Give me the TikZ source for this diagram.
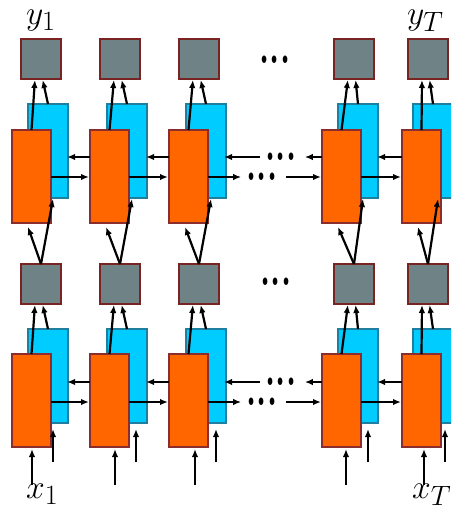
\documentclass[tikz,border=0pt]{standalone}
\usetikzlibrary{arrows.meta,calc}
\definecolor{grayfill}{HTML}{6F8386}
\definecolor{grayedge}{HTML}{7A2323}
\definecolor{bluefill}{HTML}{00CCFF}
\definecolor{blueedge}{HTML}{1E7F9E}
\definecolor{orangefill}{HTML}{FF6600}
\definecolor{orangeedge}{HTML}{8C2D2D}
\newcommand{\tdots}{\scalebox{1.3}[2.1]{\Huge\bfseries .\kern0.5pt.\kern0.5pt.}}
\newcommand{\biglabel}[1]{\scalebox{1.35}{\Huge$#1$}}

\begin{document}
\begin{tikzpicture}[x=1pt,y=-1pt,
  cell/.style={line width=1.5pt, inner sep=0pt, outer sep=0pt, anchor=north west},
  outbox/.style={cell, fill=grayfill, draw=grayedge, minimum width=40pt, minimum height=40pt},
  bwd/.style={cell, fill=bluefill, draw=blueedge, minimum width=40pt, minimum height=94pt},
  fwd/.style={cell, fill=orangefill, draw=orangeedge, minimum width=39pt, minimum height=93pt},
  arr/.style={-{Latex[length=8pt,width=6.5pt]}, line width=2.2pt},
  dotsbox/.style={inner sep=0pt, outer sep=0pt},
  lbl/.style={inner sep=0pt, anchor=base west}
]
\useasboundingbox (0,0) rectangle (451,515);
\clip (0,0) rectangle (451,515);

% columns: index / forward-cell left / backward-cell left / output-box left
\foreach \i/\O/\B/\G in {1/12/28/21, 2/90/107/100, 3/169/186/179, 4/322/338/334, 5/402/413/408} {
  \node[outbox] (gt\i) at (\G,39) {};
  \node[outbox] (gm\i) at (\G,264) {};
  \node[bwd] (bt\i) at (\B,104) {};
  \node[fwd] (ot\i) at (\O,130) {};
  \node[bwd] (bb\i) at (\B,329) {};
  \node[fwd] (ob\i) at (\O,354) {};
}

% inputs at the bottom
\foreach \i/\xo/\xb in {1/32/53, 2/115/136, 3/195/216, 4/346/368, 5/424/445} {
  \coordinate (xo\i) at (\xo,485);
  \coordinate (xb\i) at (\xb,462);
  \draw[arr] (xo\i) -- ($(xo\i |- ob\i.south)+(0,2)$);
  \draw[arr, shorten >=6pt] (xb\i) -- (xb\i |- bb\i.south);
}

% vertical connections between layers
\foreach \i in {1,...,5} {
  \draw[arr, shorten >=1pt] (ot\i.north) -- ([xshift=-6pt]gt\i.south);
  \draw[arr, shorten >=1pt] (bt\i.north) -- ([xshift=1.5pt]gt\i.south);
  \draw[arr, shorten >=1pt] (ob\i.north) -- ([xshift=-6pt]gm\i.south);
  \draw[arr, shorten >=1pt] (bb\i.north) -- ([xshift=1.5pt]gm\i.south);
  \draw[arr] (gm\i.north) -- ($(ot\i.south)+(-3.5,4)$);
  \draw[arr] (gm\i.north) -- ($(bt\i.south)+(5,1)$);
}

% recurrent connections between neighbouring steps
\foreach \a/\b in {1/2, 2/3, 4/5} {
  \draw[arr, shorten >=-1pt] (ot\b.west |- 0,157) -- (bt\a.east |- 0,157);
  \draw[arr, shorten >=1pt] (ot\a.east |- 0,177) -- (ot\b.west |- 0,177);
  \draw[arr, shorten >=-1pt] (ob\b.west |- 0,382) -- (bb\a.east |- 0,382);
  \draw[arr, shorten >=1pt] (ob\a.east |- 0,402) -- (ob\b.west |- 0,402);
}

% elided steps
\node[dotsbox] (dt) at (275,60) {\tdots};
\node[dotsbox] (dm) at (276,282) {\tdots};
\node[dotsbox] (dtl) at (281,157) {\tdots};
\node[dotsbox] (dtr) at (262,177) {\tdots};
\node[dotsbox] (dbl) at (281,382) {\tdots};
\node[dotsbox] (dbr) at (262,402) {\tdots};

\draw[arr, shorten >=8pt] (ot4.west |- dtl) -- (dtl.east);
\draw[arr, shorten <=5pt, shorten >=-2pt] (dtl.west) -- (bt3.east |- dtl);
\draw[arr, shorten >=5pt] (ot3.east |- dtr) -- (dtr.west);
\draw[arr, shorten <=8pt, shorten >=1pt] (dtr.east) -- (ot4.west |- dtr);
\draw[arr, shorten >=8pt] (ob4.west |- dbl) -- (dbl.east);
\draw[arr, shorten <=5pt, shorten >=-2pt] (dbl.west) -- (bb3.east |- dbl);
\draw[arr, shorten >=5pt] (ob3.east |- dbr) -- (dbr.west);
\draw[arr, shorten <=8pt, shorten >=1pt] (dbr.east) -- (ob4.west |- dbr);

% labels
\node[lbl] (y1) at (26,24) {\biglabel{y_1}};
\node[lbl] (yT) at (407,24) {\biglabel{y_T}};
\node[lbl] (x1) at (26,498) {\biglabel{x_1}};
\node[lbl] (xT) at (412,498) {\biglabel{x_T}};
\end{tikzpicture}
\end{document}
